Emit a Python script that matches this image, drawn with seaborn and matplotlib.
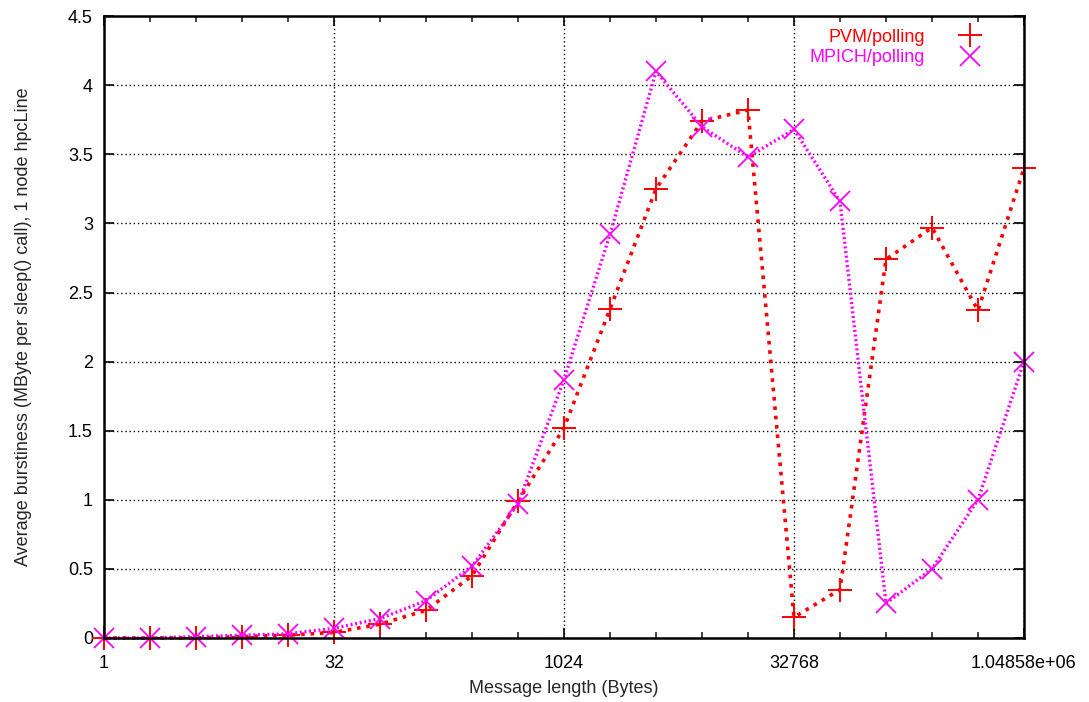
import numpy as np
import matplotlib
matplotlib.use("Agg")
import matplotlib.pyplot as plt
import seaborn as sns
from matplotlib.lines import Line2D
from matplotlib.ticker import FixedLocator, NullFormatter

msg_len = [1, 2, 4, 8, 16, 32, 64, 128, 256, 512, 1024, 2048, 4096, 8192,
           16384, 32768, 65536, 131072, 262144, 524288, 1048576]
pvm = [0.0, 0.0, 0.0, 0.01, 0.02, 0.04, 0.10, 0.20, 0.45, 0.99, 1.52, 2.38,
       3.25, 3.74, 3.82, 0.15, 0.35, 2.74, 2.97, 2.37, 3.40]
mpich = [0.0, 0.0, 0.01, 0.02, 0.03, 0.07, 0.14, 0.27, 0.52, 0.97, 1.87, 2.92,
         4.10, 3.70, 3.48, 3.68, 3.16, 0.25, 0.50, 1.00, 2.00]
xticks = [1, 32, 1024, 32768, 1048576]
xtick_labels = ["1", "32", "1024", "32768", "1.04858e+06"]
yticks = [0, 0.5, 1, 1.5, 2, 2.5, 3, 3.5, 4, 4.5]

sns.set_style("ticks")
plt.rcParams['font.family'] = ['Liberation Sans', 'DejaVu Sans']

fig, ax = plt.subplots(figsize=(10.89, 7.02), dpi=100)
fig.subplots_adjust(left=0.0955, right=0.9403, top=0.977, bottom=0.0912)

sns.lineplot(x=msg_len, y=pvm, ax=ax, color="red", linestyle=(0, (1, 1.6)),
             linewidth=2.6, marker="+", markersize=17, markeredgewidth=1.4,
             markeredgecolor="red", clip_on=False, zorder=3)
sns.lineplot(x=msg_len, y=mpich, ax=ax, color="magenta", linestyle=(0, (0.6, 0.8)),
             linewidth=2.4, marker="x", markersize=14, markeredgewidth=1.3,
             markeredgecolor="magenta", clip_on=False, zorder=4)

ax.set_xscale("log", base=2)
ax.set_xlim(1, 1048576)
ax.set_ylim(0, 4.5)
ax.set_xticks(xticks)
ax.set_xticklabels(xtick_labels)
ax.xaxis.set_minor_locator(FixedLocator(msg_len))
ax.xaxis.set_minor_formatter(NullFormatter())
ax.set_yticks(yticks)
ax.set_yticklabels(["0", "0.5", "1", "1.5", "2", "2.5", "3", "3.5", "4", "4.5"])

ax.tick_params(axis="both", which="major", direction="in", length=7, width=1.2,
               top=True, right=True, labelsize=13, colors="black", pad=8)
ax.tick_params(axis="x", which="major", pad=12)
ax.tick_params(axis="x", which="minor", direction="in", length=4, width=1.2,
               top=True, bottom=True)
ax.grid(True, which="major", color="black", linestyle=(0, (1, 2)), linewidth=1)
for s in ax.spines.values():
    s.set_linewidth(1.8)
    s.set_color("black")
    s.set_zorder(5)

ax.set_xlabel("Message length (Bytes)", fontsize=13, labelpad=6)
ax.set_ylabel("Average burstiness (MByte per sleep() call), 1 node hpcLine",
              fontsize=13, labelpad=26)

handles = [Line2D([], [], color="red", marker="+", linestyle="none", markersize=17, markeredgewidth=1.4),
           Line2D([], [], color="magenta", marker="x", linestyle="none", markersize=14, markeredgewidth=1.3)]
ax.legend(handles, ["PVM/polling", "MPICH/polling"], loc="upper right",
          bbox_to_anchor=(0.977, 1.0), frameon=False, markerfirst=False,
          labelcolor="linecolor", fontsize=13, handlelength=2.2,
          handletextpad=1.4, labelspacing=0.2, borderaxespad=0.3)

fig.savefig("out.png", dpi=100)
